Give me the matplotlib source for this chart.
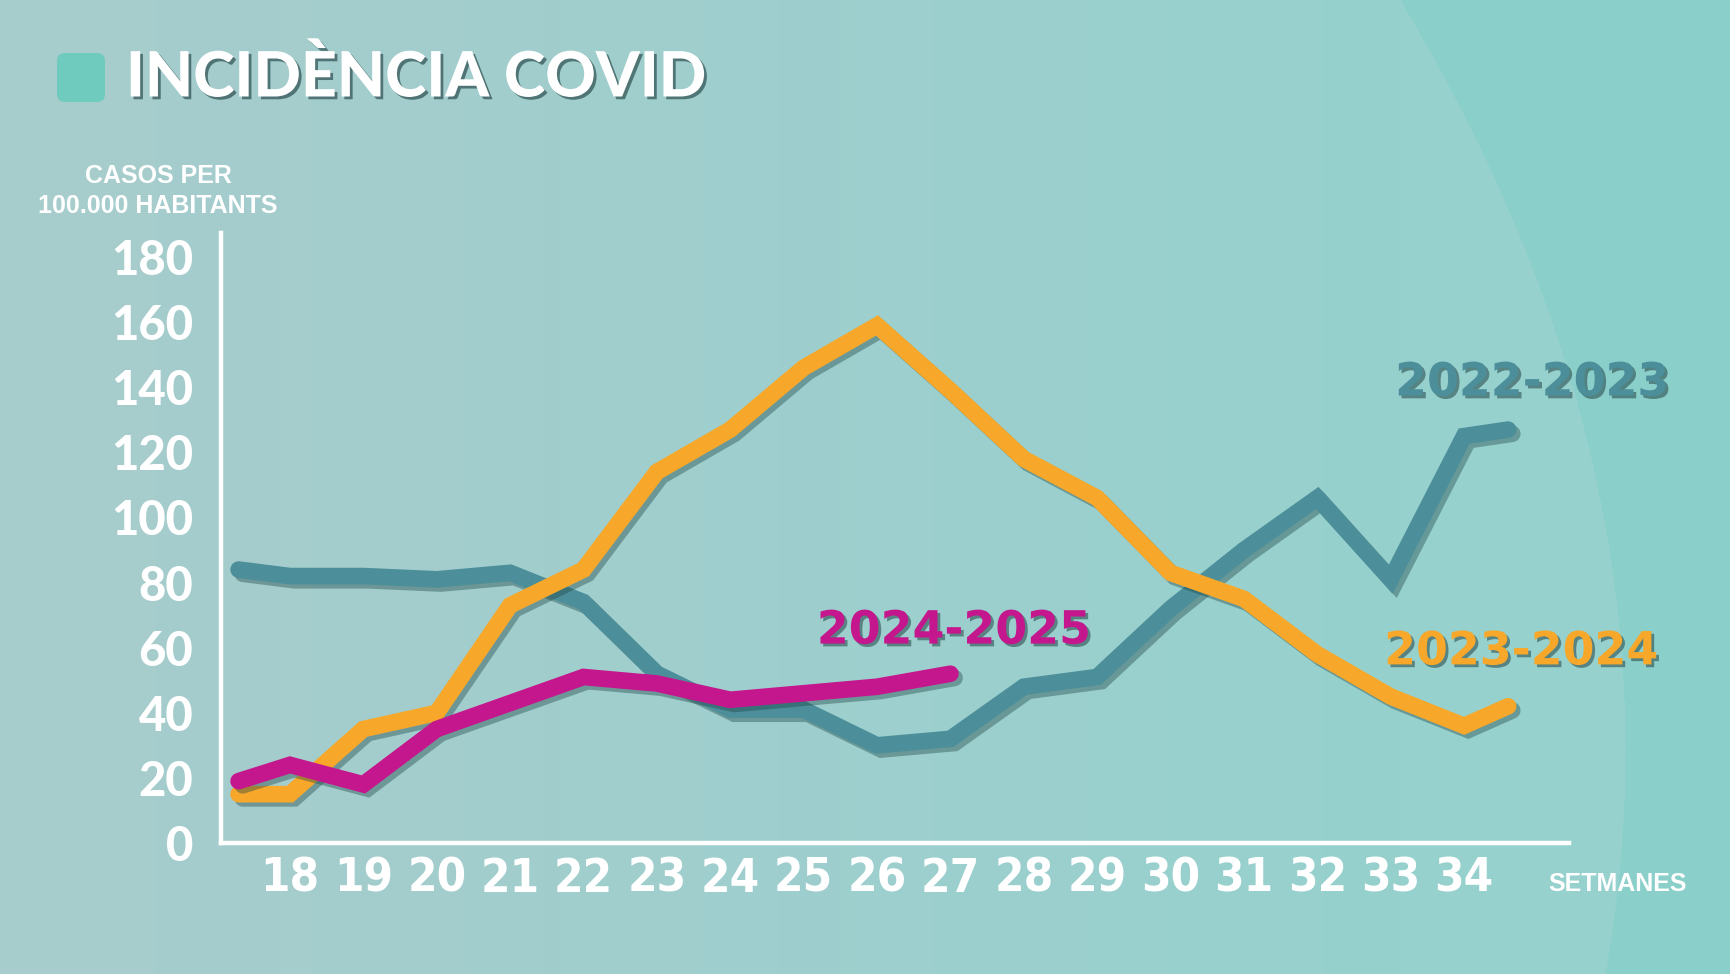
import matplotlib
matplotlib.use("Agg")
import matplotlib.pyplot as plt
import matplotlib.patheffects as pe
from matplotlib.patches import FancyBboxPatch
import numpy as np

# setmanes (el primer i l'últim punt queden mig pas fora de la graella)
weeks = [17.3, 18, 19, 20, 21, 22, 23, 24, 25, 26, 27, 28, 29, 30, 31, 32, 33, 34, 34.6]
weeks_2425 = [17.3, 18, 19, 20, 21, 22, 23, 24, 25, 26, 27]

cases_2223 = [84, 82, 82, 81, 83, 74, 52, 41, 41, 30, 32, 48, 51, 72, 90, 106, 81, 125, 127]
cases_2324 = [15, 15, 35, 40, 73, 84, 114, 127, 146, 159, 139, 118, 106, 83, 75, 58, 45, 36, 42]
cases_2425 = [19, 24, 18, 35, 43, 51, 49, 44, 46, 48, 52]

xticks = list(range(18, 35))
yticks = [0, 20, 40, 60, 80, 100, 120, 140, 160, 180]

c_teal = '#4C8F9A'
c_orange = '#F7A82A'
c_magenta = '#C5178D'

W, H = 1731, 974
fig = plt.figure(figsize=(W / 100, H / 100), dpi=100)

# fons
bg = fig.add_axes([0, 0, 1, 1])
bg.set_xlim(0, W)
bg.set_ylim(H, 0)
bg.axis('off')
xx, yy = np.meshgrid(np.arange(W), np.arange(H))
left_c = np.array([168, 204, 204]) / 255
mid_c = np.array([150, 209, 206]) / 255
right_c = np.array([139, 207, 202]) / 255
t = np.clip(xx / 1400, 0, 1)[..., None]
img = left_c * (1 - t) + mid_c * t
boundary = 1400 + 0.6 * yy - 0.0004 * yy ** 2
img = np.where((xx > boundary)[..., None], right_c, img)
bg.imshow(img, extent=(0, W, H, 0), aspect='auto', zorder=0)

bg.add_patch(FancyBboxPatch((57, 53), 48, 49, boxstyle='round,pad=0,rounding_size=8',
                            fc='#6FCBBE', ec='none', zorder=2))
shadow_txt = [pe.SimplePatchShadow(offset=(2, -2), shadow_rgbFace='#2d4f50', alpha=0.7), pe.Normal()]
bg.text(126, 78, 'INCIDÈNCIA COVID', color='white', fontsize=45, fontweight='black',
        family=['Lato', 'Liberation Sans', 'DejaVu Sans'], ha='left', va='center',
        path_effects=shadow_txt, zorder=3)
bg.text(158, 176, 'CASOS PER', color='white', fontsize=18, fontweight='bold',
        family=['Liberation Sans', 'DejaVu Sans'], ha='center', va='center')
bg.text(158, 206, '100.000 HABITANTS', color='white', fontsize=18, fontweight='bold',
        family=['Liberation Sans', 'DejaVu Sans'], ha='center', va='center')
bg.text(1618, 884, 'SETMANES', color='white', fontsize=18, fontweight='bold',
        family=['Liberation Sans', 'DejaVu Sans'], ha='center', va='center')

# gràfic
ax = fig.add_axes([221 / W, 1 - 843 / H, (1569 - 221) / W, (843 - 233) / H])
ax.patch.set_alpha(0)
ax.set_xlim(17.06, 35.43)
ax.set_ylim(0, 187.4)
for s in ['top', 'right']:
    ax.spines[s].set_visible(False)
for s in ['left', 'bottom']:
    ax.spines[s].set_color('white')
    ax.spines[s].set_linewidth(3.2)

line_fx = [pe.SimpleLineShadow(offset=(3, -3), shadow_color='#1e4646', alpha=0.4), pe.Normal()]
ax.plot(weeks, cases_2223, color=c_teal, lw=12, solid_capstyle='round', solid_joinstyle='miter',
        path_effects=line_fx, clip_on=False, zorder=3)
ax.plot(weeks, cases_2324, color=c_orange, lw=12, solid_capstyle='round', solid_joinstyle='miter',
        path_effects=line_fx, clip_on=False, zorder=4)
ax.plot(weeks_2425, cases_2425, color=c_magenta, lw=12, solid_capstyle='round', solid_joinstyle='miter',
        path_effects=line_fx, clip_on=False, zorder=5)

ax.set_xticks(xticks)
ax.set_xticklabels([str(w) for w in xticks], color='white', fontsize=34, fontweight='bold',
                   family=['DejaVu Sans'], fontstretch='condensed')
ax.set_yticks(yticks)
ax.set_yticklabels([str(v) for v in yticks], color='white', fontsize=34, fontweight='black',
                   family=['Lato', 'DejaVu Sans'])
ax.tick_params(axis='x', length=0, pad=10)
ax.tick_params(axis='y', length=0, pad=20)

lab_fx = [pe.SimplePatchShadow(offset=(2, -2), shadow_rgbFace='#2d4f50', alpha=0.6), pe.Normal()]
ax.text(34.93, 141.3, '2022-2023', color=c_teal, fontsize=33, fontweight='bold',
        family=['DejaVu Sans'], ha='center', va='center', path_effects=lab_fx, clip_on=False)
ax.text(27.05, 65.1, '2024-2025', color=c_magenta, fontsize=33, fontweight='bold',
        family=['DejaVu Sans'], ha='center', va='center', path_effects=lab_fx, clip_on=False)
ax.text(34.78, 58.7, '2023-2024', color=c_orange, fontsize=33, fontweight='bold',
        family=['DejaVu Sans'], ha='center', va='center', path_effects=lab_fx, clip_on=False)

fig.savefig('out.png', dpi=100)
